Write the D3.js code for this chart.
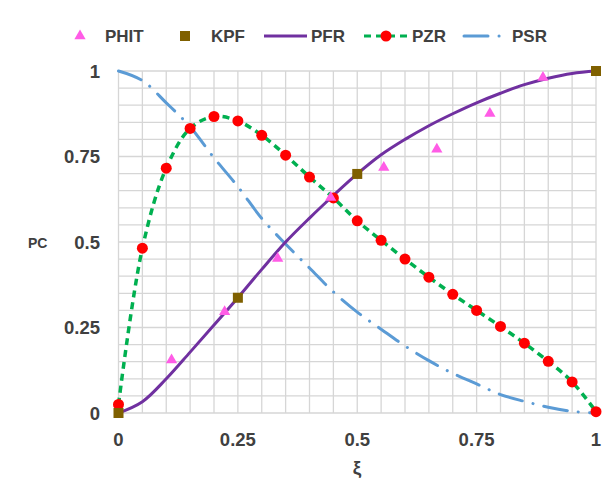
<!DOCTYPE html>
<meta charset="utf-8">
<style>
body { margin: 0; background: #fff; }
text { font-family: "Liberation Sans", Arial, sans-serif; font-weight: bold; fill: #404040; }
.grid line { stroke: #d6d6d6; stroke-width: 1.3; }
</style>
<body>
<script src="https://d3js.org/d3.v7.min.js"></script>
<script>
// data
var xi = [0, 0.05, 0.1, 0.15, 0.2, 0.25, 0.3, 0.35, 0.4, 0.45, 0.5,
          0.55, 0.6, 0.65, 0.7, 0.75, 0.8, 0.85, 0.9, 0.95, 1];
var pzr = [0.025, 0.482, 0.716, 0.832, 0.867, 0.854, 0.812, 0.754, 0.690, 0.629, 0.562,
           0.505, 0.450, 0.397, 0.347, 0.300, 0.253, 0.204, 0.151, 0.091, 0.004];
var pfr = [0, 0.033, 0.100, 0.178, 0.257, 0.337, 0.420, 0.500, 0.570, 0.636, 0.699,
           0.755, 0.800, 0.840, 0.875, 0.907, 0.935, 0.960, 0.979, 0.993, 1];
var psr = [1, 0.972, 0.907, 0.837, 0.746, 0.662, 0.569, 0.494, 0.424, 0.354, 0.295,
           0.245, 0.196, 0.153, 0.116, 0.085, 0.054, 0.034, 0.017, 0.005, 0];
var phitX = [1/9, 2/9, 3/9, 4/9, 5/9, 6/9, 7/9, 8/9];
var phitY = [0.155, 0.296, 0.452, 0.630, 0.718, 0.771, 0.876, 0.981];
var kpfX = [0, 0.25, 0.5, 1];
var kpfY = [0, 0.337, 0.699, 1];
var ticks = [0, 0.25, 0.5, 0.75, 1];
var seriesNames = ["PHIT", "KPF", "PFR", "PZR", "PSR"];

var W = 613, H = 499;
var svg = d3.select("body").append("svg").attr("width", W).attr("height", H);

var x = d3.scaleLinear().domain([0, 1]).range([118.5, 596]);
var y = d3.scaleLinear().domain([0, 1]).range([413, 71]);

// grid every 0.05
var grid = svg.append("g").attr("class", "grid");
grid.selectAll(".v").data(xi).enter().append("line")
    .attr("x1", function(d) { return x(d); }).attr("x2", function(d) { return x(d); })
    .attr("y1", y(0)).attr("y2", y(1));
grid.selectAll(".h").data(xi).enter().append("line")
    .attr("y1", function(d) { return y(d); }).attr("y2", function(d) { return y(d); })
    .attr("x1", x(0)).attr("x2", x(1));

// tick labels
svg.selectAll(".yt").data(ticks).enter().append("text")
    .attr("x", 100).attr("y", function(d) { return y(d) + 6.5; })
    .attr("text-anchor", "end").style("font-size", "18.5px")
    .text(function(d) { return d; });
svg.selectAll(".xt").data(ticks).enter().append("text")
    .attr("x", function(d) { return x(d); }).attr("y", 446)
    .attr("text-anchor", "middle").style("font-size", "18.5px")
    .text(function(d) { return d; });

svg.append("text").attr("x", 28).attr("y", 248).style("font-size", "14px").text("PC");
svg.append("text").attr("x", 357).attr("y", 474).attr("text-anchor", "middle")
    .style("font-size", "19px").text("ξ");

var pts = function(xs, ys) { return xs.map(function(d, i) { return [d, ys[i]]; }); };
var line = d3.line().x(function(d) { return x(d[0]); }).y(function(d) { return y(d[1]); })
    .curve(d3.curveCatmullRom.alpha(0.5));

var styles = {
  PFR: { stroke: "#7030a0", dash: null },
  PZR: { stroke: "#00b050", dash: "7,5" },
  PSR: { stroke: "#5b9bd5", dash: "24,11,0.1,11" }
};

svg.append("path").datum(pts(xi, psr)).attr("d", line)
    .attr("fill", "none").attr("stroke", styles.PSR.stroke).attr("stroke-width", 3)
    .attr("stroke-linecap", "round").attr("stroke-dasharray", styles.PSR.dash);
svg.append("path").datum(pts(xi, pfr)).attr("d", line)
    .attr("fill", "none").attr("stroke", styles.PFR.stroke).attr("stroke-width", 3);
svg.append("path").datum(pts(xi, pzr)).attr("d", line)
    .attr("fill", "none").attr("stroke", styles.PZR.stroke).attr("stroke-width", 3.5)
    .attr("stroke-dasharray", styles.PZR.dash);

svg.selectAll(".pzr").data(pts(xi, pzr)).enter().append("circle")
    .attr("cx", function(d) { return x(d[0]); }).attr("cy", function(d) { return y(d[1]); })
    .attr("r", 5.5).attr("fill", "#ff0000");

var tri = d3.symbol().type(d3.symbolTriangle).size(55);
svg.selectAll(".phit").data(pts(phitX, phitY)).enter().append("path")
    .attr("d", tri)
    .attr("transform", function(d) { return "translate(" + x(d[0]) + "," + y(d[1]) + ")"; })
    .attr("fill", "#ff5ce6");

svg.selectAll(".kpf").data(pts(kpfX, kpfY)).enter().append("rect")
    .attr("x", function(d) { return x(d[0]) - 5; }).attr("y", function(d) { return y(d[1]) - 5; })
    .attr("width", 10).attr("height", 10).attr("fill", "#7f6000");

// legend
var lg = svg.append("g");
var ly = 36;
var lx = [80, 185, 264, 364, 464];
var textX = [105, 211, 311, 412, 512];
seriesNames.forEach(function(name, i) {
  if (name === "PHIT") {
    lg.append("path").attr("d", tri).attr("transform", "translate(" + lx[i] + "," + ly + ")")
      .attr("fill", "#ff5ce6");
  } else if (name === "KPF") {
    lg.append("rect").attr("x", lx[i] - 5).attr("y", ly - 5).attr("width", 10).attr("height", 10)
      .attr("fill", "#7f6000");
  } else {
    var s = styles[name];
    lg.append("line").attr("x1", lx[i]).attr("x2", lx[i] + (name === "PSR" ? 39 : 43))
      .attr("y1", ly).attr("y2", ly)
      .attr("stroke", s.stroke).attr("stroke-width", 3)
      .attr("stroke-linecap", name === "PSR" ? "round" : "butt")
      .attr("stroke-dasharray", s.dash);
    if (name === "PZR") {
      lg.append("circle").attr("cx", lx[i] + 22).attr("cy", ly).attr("r", 5.5).attr("fill", "#ff0000");
    }
  }
  lg.append("text").attr("x", textX[i]).attr("y", ly + 6).style("font-size", "17px").text(name);
});
</script>
</body>
